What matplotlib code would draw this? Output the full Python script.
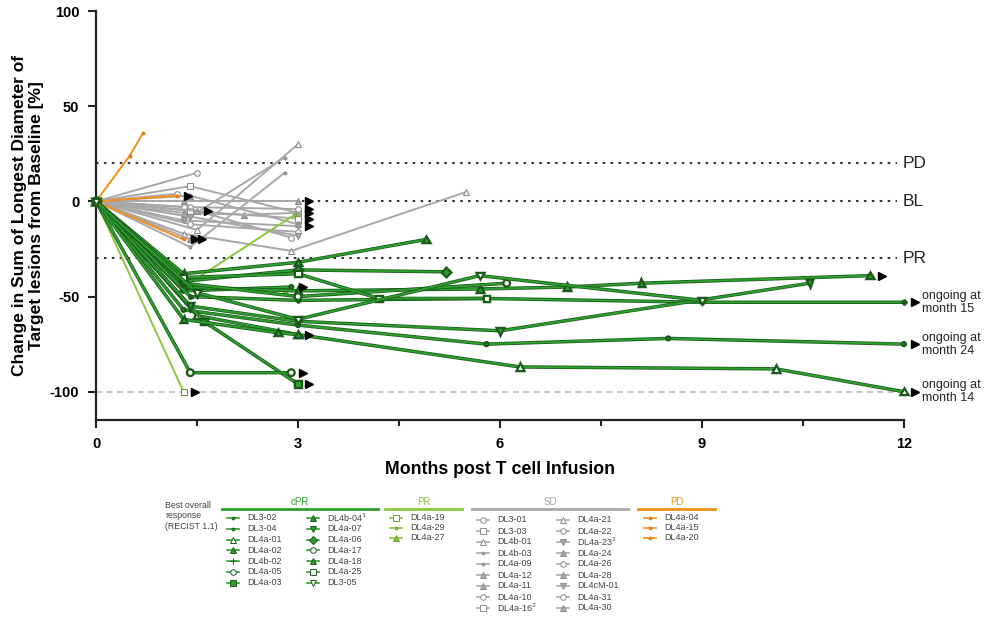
import numpy as np
import matplotlib
matplotlib.use("Agg")
import matplotlib.pyplot as plt
import matplotlib.patheffects as pe

plt.rcParams['font.family'] = ['Liberation Sans', 'DejaVu Sans']
plt.rcParams['axes.unicode_minus'] = False

GREEN = '#2e9e2e'
GREEN_EDGE = '#1c5a1c'
LIGHT = '#8cc63f'
GREY = '#a8a8a8'
ORANGE = '#f39019'

# confirmed partial response
cpr_ids = ['DL3-02', 'DL3-04', 'DL4a-01', 'DL4a-02', 'DL4b-02', 'DL4a-05', 'DL4a-03',
           'DL4b-04$^1$', 'DL4a-07', 'DL4a-06', 'DL4a-17', 'DL4a-18', 'DL4a-25', 'DL3-05']
cpr_months = [[0, 1.3, 3.0, 5.8, 8.5, 12.0],
              [0, 1.3, 2.9],
              [0, 1.5, 3.0, 6.3, 10.1, 12.0],
              [0, 1.3, 3.0, 5.7, 7.0, 8.1, 11.5],
              [0, 1.4, 3.0, 5.8, 9.0, 12.0],
              [0, 1.3, 3.0, 6.1],
              [0, 1.6, 3.0],
              [0, 1.3, 3.0, 4.9],
              [0, 1.4, 3.0, 6.0, 10.6],
              [0, 1.3, 3.0, 5.2],
              [0, 1.4, 2.9],
              [0, 1.3, 2.7, 3.0],
              [0, 1.3, 3.0, 4.2, 5.8],
              [0, 1.5, 3.0, 5.7, 9.0]]
cpr_values = [[0, -57, -65, -75, -72, -75],
              [0, -47, -45],
              [0, -60, -70, -87, -88, -100],
              [0, -45, -47, -46, -45, -43, -39],
              [0, -50, -52, -51, -53, -53],
              [0, -43, -50, -43],
              [0, -63, -96],
              [0, -38, -32, -20],
              [0, -55, -63, -68, -43],
              [0, -42, -36, -37],
              [0, -90, -90],
              [0, -62, -69, -70],
              [0, -40, -38, -51, -51],
              [0, -48, -62, -39, -52]]
cpr_marks = ['.', '.', '^', '^', '+', 'o', 's', '^', 'v', 'D', 'o', '^', 's', 'v']
cpr_open = [False, False, True, False, False, True, False, False, False, False, True, False, True, True]
cpr_ongoing = [True, True, True, True, True, False, True, False, False, False, True, True, False, False]

# partial response
pr_ids = ['DL4a-19', 'DL4a-29', 'DL4a-27']
pr_months = [[0, 1.3], [0, 1.3, 2.95], [0, 1.4, 2.8]]
pr_values = [[0, -100], [0, -45, -7], [0, -44, -47]]
pr_marks = ['s', '.', '^']
pr_ongoing = [True, False, False]

# stable disease
sd_ids = ['DL3-01', 'DL3-03', 'DL4b-01', 'DL4b-03', 'DL4a-09', 'DL4a-12', 'DL4a-11',
          'DL4a-10', 'DL4a-16$^2$', 'DL4a-21', 'DL4a-22', 'DL4a-23$^2$', 'DL4a-24',
          'DL4a-26', 'DL4a-28', 'DL4cM-01', 'DL4a-31', 'DL4a-30']
sd_months = [[0, 1.5], [0, 1.4, 3.0], [0, 1.5, 3.0], [0, 1.4, 2.8], [0, 1.4, 2.8],
             [0, 1.3, 3.0], [0, 1.3, 2.2, 3.0], [0, 1.4, 3.0], [0, 1.4, 3.0],
             [0, 1.3, 2.9, 5.5], [0, 1.4, 3.0], [0, 1.3, 3.0], [0, 1.4],
             [0, 1.3, 2.9], [0, 1.5], [0, 1.4, 3.0], [0, 1.2], [0, 1.4, 3.0]]
sd_values = [[0, 15], [0, 8, -6], [0, -15, 30], [0, -8, 23], [0, -24, 15],
             [0, 0, 0], [0, -6, -7, -6], [0, -12, -16], [0, -5, -9],
             [0, -17, -26, 5], [0, -3, -4], [0, -10, -13], [0, -20],
             [0, -3, -19], [0, -5], [0, -8, -18], [0, 4], [0, 3, -12]]
sd_marks = ['o', 's', '^', '.', '.', '^', '^', 'o', 's', '^', 'o', 'v', '^', 'o', '^', 'v', 'o', '^']
sd_open = [True, True, True, False, False, False, False, True, True, True, True, False, False, True,
           False, False, True, False]
sd_ongoing = [False, False, False, False, False, True, True, False, True, False, True, True, True,
              False, True, False, False, False]

# progressive disease
pd_ids = ['DL4a-04', 'DL4a-15', 'DL4a-20']
pd_months = [[0, 0.5, 0.7], [0, 1.2], [0, 1.3]]
pd_values = [[0, 24, 36], [0, 3], [0, -20]]
pd_marks = ['.', '.', '.']
pd_ongoing = [False, True, True]

fig = plt.figure(figsize=(9.9, 6.18), dpi=100)
ax = fig.add_axes([0.097, 0.320, 0.816, 0.662])


def draw_group(months, values, marks, opened, ongoing, color, edge, outline):
    for m, v, mk, op, og in zip(months, values, marks, opened, ongoing):
        fx = [pe.Stroke(linewidth=2.5, foreground=edge), pe.Normal()] if outline else None
        ax.plot(m, v, color=color, lw=1.4, marker=mk, ms=4, mec=edge, mew=0.8,
                mfc='white' if op else color, clip_on=False, zorder=3, path_effects=fx)
        if og:
            ax.plot(m[-1] + 0.17, v[-1], marker='>', color='black', ms=6,
                    ls='none', clip_on=False, zorder=5)


draw_group(sd_months, sd_values, sd_marks, sd_open, sd_ongoing, GREY, '#8c8c8c', False)
draw_group(pd_months, pd_values, pd_marks, [False] * 3, pd_ongoing, ORANGE, '#d97a0c', False)
draw_group(pr_months, pr_values, pr_marks, [True, False, False], pr_ongoing, LIGHT, '#6a9e2a', False)
draw_group(cpr_months, cpr_values, cpr_marks, cpr_open, cpr_ongoing, GREEN, GREEN_EDGE, True)

# response thresholds
for lvl, name in [(20, 'PD'), (0, 'BL'), (-30, 'PR')]:
    ax.plot([0, 11.9], [lvl, lvl], ls=(0, (1.2, 2.6)), color='#333333', lw=1.5, zorder=1)
    ax.text(11.98, lvl, name, ha='left', va='center', fontsize=12.5, color='#222222')
ax.plot([0, 12], [-100, -100], ls=(0, (3, 2)), color='#c8c8c8', lw=1.5, zorder=1)

for yv, txt in [(-53, 'ongoing at\nmonth 15'), (-75, 'ongoing at\nmonth 24'), (-100, 'ongoing at\nmonth 14')]:
    ax.text(12.27, yv, txt, ha='left', va='center', fontsize=9, color='#222222', linespacing=1.1)

ax.set_xlim(0, 12)
ax.set_ylim(-115, 100)
ax.set_xticks([0, 3, 6, 9, 12])
ax.set_xticks([1.5, 4.5, 7.5, 10.5], minor=True)
ax.set_yticks([-100, -50, 0, 50, 100])
for s in ['top', 'right']:
    ax.spines[s].set_visible(False)
for s in ['left', 'bottom']:
    ax.spines[s].set_linewidth(1.6)
    ax.spines[s].set_color('#222222')
ax.tick_params(which='both', direction='out', width=1.5, color='#222222')
ax.tick_params(which='major', length=6, labelsize=10.5, pad=6)
ax.tick_params(which='minor', length=4)
for lab in ax.get_xticklabels() + ax.get_yticklabels():
    lab.set_fontweight('bold')
ax.set_xlabel('Months post T cell Infusion', fontsize=12.8, fontweight='bold', labelpad=7)
ax.set_ylabel('Change in Sum of Longest Diameter of\nTarget lesions from Baseline [%]',
              fontsize=12.5, fontweight='bold', labelpad=4)

# legend block drawn in pixel coordinates
lax = fig.add_axes([0, 0, 1, 1], facecolor='none')
lax.set_xlim(0, 990)
lax.set_ylim(618, 0)
lax.axis('off')

lax.text(165, 516, 'Best overall\nresponse\n(RECIST 1.1)', fontsize=6.3, color='#444444',
         va='center', ha='left', linespacing=1.15)


def legend_column(ids, marks, opened, color, edge, x, y0, dy):
    for i, (name, mk, op) in enumerate(zip(ids, marks, opened)):
        y = y0 + i * dy
        lax.plot([x - 6, x + 6], [y, y], color=color, lw=1.2, marker=None)
        lax.plot([x], [y], marker=mk, ms=4, color=color, mec=edge, mew=0.7,
                 mfc='white' if op else color)
        lax.text(x + 14, y, name, fontsize=6.5, color='#444444', va='center', ha='left')


def legend_header(name, color, x0, x1):
    lax.plot([x0, x1], [509, 509], color=color, lw=2)
    lax.text((x0 + x1) / 2, 502, name, fontsize=7, color=color, ha='center', va='center')


legend_header('cPR', GREEN, 222, 378)
legend_column(cpr_ids[:7], cpr_marks[:7], cpr_open[:7], GREEN, GREEN_EDGE, 233, 518, 10.8)
legend_column(cpr_ids[7:], cpr_marks[7:], cpr_open[7:], GREEN, GREEN_EDGE, 313, 518, 10.8)

legend_header('PR', LIGHT, 385, 462)
legend_column(pr_ids, pr_marks, [True, False, False], LIGHT, '#6a9e2a', 396, 518, 10)

legend_header('SD', GREY, 472, 628)
legend_column(sd_ids[:9], sd_marks[:9], sd_open[:9], GREY, '#8c8c8c', 483, 520, 11)
legend_column(sd_ids[9:], sd_marks[9:], sd_open[9:], GREY, '#8c8c8c', 563, 520, 11)

legend_header('PD', ORANGE, 638, 715)
legend_column(pd_ids, pd_marks, [False] * 3, ORANGE, '#d97a0c', 650, 518, 10)

fig.savefig('out.png', dpi=100)
